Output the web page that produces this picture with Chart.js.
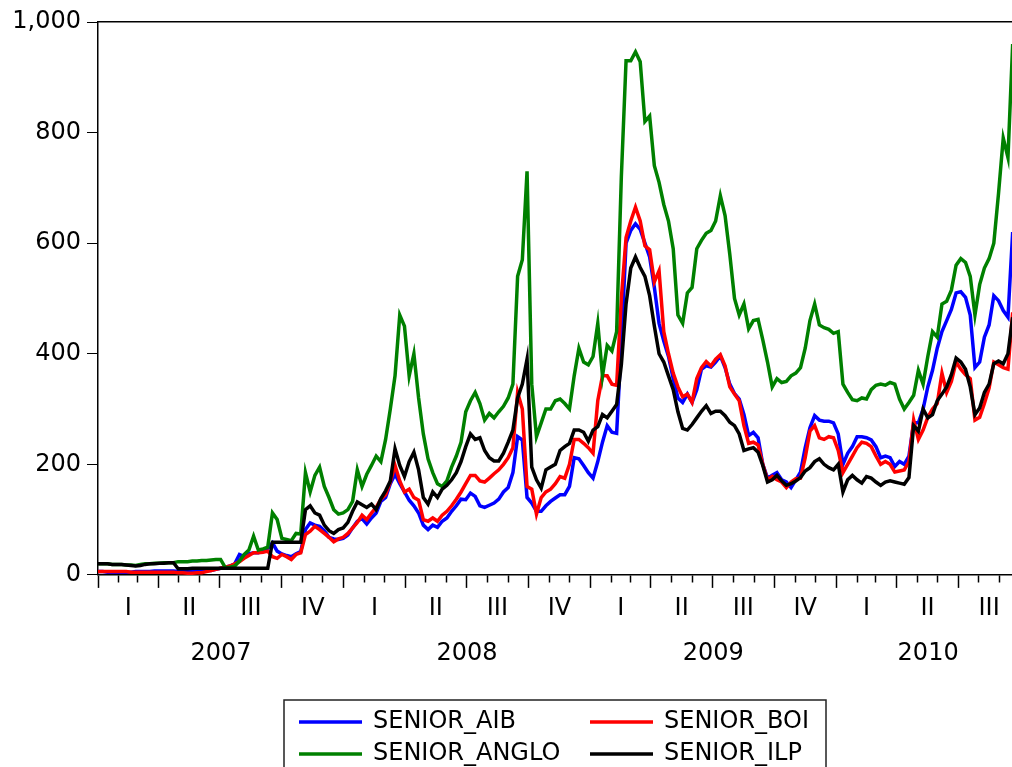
<!DOCTYPE html>
<html>
<head>
<meta charset="utf-8">
<script src="https://cdn.jsdelivr.net/npm/chart.js@4.4.0/dist/chart.umd.min.js"></script>
<style>
  html, body { margin: 0; padding: 0; background: #fff; }
</style>
</head>
<body>
<canvas id="seniorChart" width="1012" height="767"></canvas>
<script>
// weekly readings from 2007-01-01, one value every 7 days
var seriesNames = ["SENIOR_AIB", "SENIOR_BOI", "SENIOR_ANGLO", "SENIOR_ILP"];
var quarterLabels = ["I", "II", "III", "IV"];
var yearLabels = ["2007", "2008", "2009", "2010"];
var yTicks = [0, 200, 400, 600, 800, 1000];
var stepDays = 7;
var endDays = 1357;

var aib = [
  6, 6, 5, 5, 5, 5, 5, 5, 6, 6,
  6, 6, 7, 7, 7, 7, 7, 6, 6, 6,
  6, 7, 7, 8, 8, 10, 12, 14, 16, 20,
  37, 33, 38, 40, 40, 44, 48, 58, 43, 38,
  35, 33, 38, 42, 82, 94, 90, 88, 80, 68,
  65, 64, 66, 72, 85, 97, 102, 92, 103, 112,
  133, 140, 165, 182, 165, 150, 135, 125, 112, 90,
  82, 90, 86, 97, 103, 115, 125, 137, 136, 148,
  142, 125, 122, 126, 130, 137, 150, 158, 185, 250,
  244, 140, 130, 115, 115, 125, 133, 139, 145, 145,
  160, 212, 210, 198, 185, 175, 205, 240, 270, 258,
  256, 420, 600, 623, 635, 625, 600, 575, 520, 455,
  423, 395, 355, 320, 312, 327, 312, 335, 372, 378,
  376, 385, 396, 375, 345, 328, 318, 290, 252, 258,
  248, 200, 175, 180, 185, 172, 168, 158, 172, 186,
  230, 266, 288, 280, 278, 278, 275, 255, 200, 220,
  232, 250, 250, 248, 244, 232, 212, 215, 212, 196,
  205, 200, 215, 275, 275, 300, 340, 370, 410, 440,
  460, 480, 510, 512, 502, 470, 375, 385, 430, 452,
  505, 496, 478, 466, 620
];
var boi = [
  6, 6, 6, 6, 6, 6, 6, 5, 5, 5,
  5, 5, 5, 5, 5, 5, 5, 4, 4, 3,
  3, 4, 4, 6, 8, 10, 12, 14, 16, 20,
  24, 30, 35, 40, 40, 41, 43, 33, 30, 37,
  33, 28, 37, 40, 73, 79, 88, 82, 75, 68,
  60, 65, 68, 75, 85, 95, 108, 100, 112, 122,
  137, 145, 168, 198, 170, 150, 155, 140, 135, 100,
  97, 103, 97, 108, 115, 125, 137, 150, 165, 180,
  180, 170, 168, 175, 183, 190, 200, 212, 230, 330,
  300, 160, 155, 110, 140, 150, 155, 165, 178, 175,
  200, 245, 245, 238, 230, 220, 315, 360, 360, 345,
  343, 500, 610, 640, 665, 640, 595, 588, 530, 550,
  440, 400, 365, 340, 322, 327, 312, 355, 375, 386,
  378, 390, 398, 378, 340, 327, 315, 270, 238, 240,
  235, 200, 172, 178, 172, 168, 158, 168, 174, 175,
  212, 260, 270, 248, 245, 250, 248, 225, 185, 200,
  215, 230, 240, 238, 232, 215, 200, 205, 200, 186,
  188, 190, 205, 280, 245, 262, 285, 300, 310, 365,
  330, 350, 385, 372, 362, 355, 280, 285, 310, 338,
  385, 380, 375, 372, 475
];
var anglo = [
  20, 20, 20, 19, 19, 19, 18, 18, 17, 19,
  20, 20, 21, 21, 22, 22, 22, 24, 24, 24,
  25, 25, 26, 26, 27, 28, 28, 13, 14, 16,
  25, 37, 45, 70, 45, 47, 50, 112, 100, 66,
  64, 62, 75, 74, 185, 150, 180, 195, 160, 140,
  118, 110, 112, 118, 133, 190, 160, 182, 198, 215,
  205, 245, 300, 360, 470, 450, 360, 400, 320, 255,
  210, 185, 165, 160, 170, 195, 215, 240, 295, 315,
  330, 310, 280, 292, 284, 295, 305, 320, 345, 540,
  570, 730, 345, 250, 275, 300, 300, 315, 318, 310,
  300, 360, 410, 385, 380, 395, 455, 360, 415, 405,
  440, 720, 930, 930, 946, 928, 820, 830, 740, 710,
  670, 640, 590, 470, 455, 510, 520, 590, 605, 618,
  623, 640, 686, 650, 580, 500, 470, 490, 445, 460,
  462, 425, 385, 340, 355, 348, 350, 360, 365, 375,
  410, 460, 490, 452, 447, 444, 437, 440, 345, 330,
  317, 315, 320, 318, 335, 343, 345, 343, 348, 345,
  318, 300, 312, 325, 370, 345, 395, 440, 430, 490,
  495, 515, 560, 572, 565, 540, 470, 525, 555, 572,
  600, 690, 790, 755, 960
];
var ilp = [
  20, 20, 20, 19, 19, 19, 18, 17, 16, 17,
  19, 20, 20, 21, 21, 22, 22, 11, 11, 11,
  12, 12, 12, 12, 12, 12, 12, 12, 12, 12,
  12, 12, 12, 12, 12, 12, 12, 59, 59, 59,
  59, 59, 59, 59, 118, 125, 112, 108, 90, 80,
  75, 82, 85, 95, 115, 132, 127, 122, 128, 118,
  138, 152, 170, 228, 198, 178, 205, 222, 190, 140,
  128, 150, 140, 155, 162, 172, 185, 205, 232, 255,
  245, 248, 225, 212, 206, 206, 220, 240, 262, 320,
  345, 390, 195, 172, 157, 190, 195, 200, 225, 232,
  238, 262, 262, 258, 242, 262, 268, 290, 284, 296,
  308, 380, 490, 555, 575, 556, 540, 505, 450, 400,
  385, 360, 335, 295, 265, 262, 272, 284, 296, 306,
  292, 296, 296, 288, 276, 270, 255, 225, 228, 230,
  222, 198, 168, 172, 180, 170, 162, 165, 170, 176,
  188, 194, 205, 210, 200, 194, 190, 200, 150, 172,
  180, 172, 166, 178, 175, 168, 162, 168, 170, 168,
  166, 164, 176, 270, 260, 300, 284, 290, 315, 327,
  340, 362, 392, 385, 372, 340, 290, 302, 330, 345,
  382, 387, 382, 400, 466
];

var startDate = Date.UTC(2007, 0, 1);
function dayOf(y, m) {
  return (Date.UTC(y, m, 1) - startDate) / 86400000;
}
function toPoints(values) {
  return values.map(function (v, i) { return { x: i * stepDays, y: v }; });
}

// month tick marks, quarter starts get the long ones
var monthTicks = [];
var quarterStarts = [];
var quarterCenters = [];
var quarterNames = [];
var yearCenters = [];
for (var yi = 0; yi < yearLabels.length; yi++) {
  var yr = parseInt(yearLabels[yi], 10);
  var lastEnd = dayOf(yr, 0);
  for (var m = 0; m < 12; m++) {
    var d = dayOf(yr, m);
    if (d > endDays) break;
    monthTicks.push(d);
    if (m % 3 === 0) {
      quarterStarts.push(d);
      quarterCenters.push((d + dayOf(yr, m + 3)) / 2);
      quarterNames.push(quarterLabels[m / 3]);
      lastEnd = dayOf(yr, m + 3);
    }
  }
  yearCenters.push((dayOf(yr, 0) + lastEnd) / 2);
}

function asTicks(list) {
  return list.map(function (v) { return { value: v }; });
}

var legendBox = {
  id: "legendBox",
  afterDraw: function (chart) {
    var ctx = chart.ctx;
    var area = chart.chartArea;
    var left = (area.left + area.right) / 2 - 271;
    var top = chart.height - 67;
    ctx.save();
    ctx.strokeStyle = "#222";
    ctx.lineWidth = 1.5;
    ctx.strokeRect(left, top, 542, 80);
    ctx.font = '24px "DejaVu Sans"';
    ctx.textBaseline = "middle";
    ctx.textAlign = "left";
    chart.data.datasets.forEach(function (ds, i) {
      var x = left + 15 + (i % 2) * 291;
      var y = top + 22 + Math.floor(i / 2) * 32;
      ctx.strokeStyle = ds.borderColor;
      ctx.lineWidth = 3.5;
      ctx.beginPath();
      ctx.moveTo(x, y);
      ctx.lineTo(x + 63, y);
      ctx.stroke();
      ctx.fillStyle = "#000";
      ctx.fillText(ds.label, x + 74, y);
    });
    ctx.restore();
  }
};

Chart.defaults.font.family = '"DejaVu Sans"';
Chart.defaults.font.size = 24;
Chart.defaults.color = "#000";

var ctx = document.getElementById("seniorChart").getContext("2d");
var myChart = new Chart(ctx, {
  type: "line",
  data: {
    datasets: [
      { label: seriesNames[0], data: toPoints(aib), borderColor: "#0000ff", order: 3 },
      { label: seriesNames[1], data: toPoints(boi), borderColor: "#ff0000", order: 2 },
      { label: seriesNames[2], data: toPoints(anglo), borderColor: "#008000", order: 1 },
      { label: seriesNames[3], data: toPoints(ilp), borderColor: "#000000", order: 0 },
    ],
  },
  options: {
    responsive: false,
    animation: false,
    devicePixelRatio: 1,
    layout: { padding: { top: 22, right: 0, bottom: 88.5, left: 0 } },
    elements: {
      point: { radius: 0 },
      line: { borderWidth: 3.5, tension: 0, fill: false },
    },
    plugins: {
      legend: { display: false },
      tooltip: { enabled: false },
    },
    scales: {
      x: {
        type: "linear",
        position: "bottom",
        weight: 0,
        min: 0,
        max: endDays,
        afterBuildTicks: function (scale) { scale.ticks = asTicks(monthTicks); },
        ticks: { display: false },
        grid: {
          drawOnChartArea: false,
          tickLength: 13,
          tickColor: "#000",
          tickWidth: 1.5,
          tickBorderDash: function (c) {
            return c.tick && quarterStarts.indexOf(c.tick.value) >= 0 ? [] : [7, 40];
          },
        },
        border: { display: true, color: "#000", width: 1.5 },
      },
      xq: {
        type: "linear",
        position: "bottom",
        weight: 1,
        min: 0,
        max: endDays,
        afterBuildTicks: function (scale) { scale.ticks = asTicks(quarterCenters); },
        ticks: {
          autoSkip: false,
          maxRotation: 0,
          padding: 6,
          callback: function (value, index) { return quarterNames[index]; },
        },
        grid: { display: false, drawTicks: false },
        border: { display: false },
      },
      xy: {
        type: "linear",
        position: "bottom",
        weight: 2,
        min: 0,
        max: endDays,
        afterBuildTicks: function (scale) { scale.ticks = asTicks(yearCenters); },
        ticks: {
          autoSkip: false,
          maxRotation: 0,
          padding: 10.5,
          callback: function (value, index) { return yearLabels[index]; },
        },
        grid: { display: false, drawTicks: false },
        border: { display: false },
      },
      xt: {
        type: "linear",
        position: "top",
        min: 0,
        max: endDays,
        ticks: { display: false },
        grid: { display: false, drawTicks: false },
        border: { display: true, color: "#000", width: 1.5 },
      },
      y: {
        min: 0,
        max: 1000,
        afterBuildTicks: function (scale) { scale.ticks = asTicks(yTicks); },
        afterFit: function (scale) { scale.width = 98; },
        ticks: {
          padding: 6,
          callback: function (value) { return value.toLocaleString("en-US"); },
        },
        grid: { drawOnChartArea: false, tickLength: 11, tickColor: "#000", tickWidth: 1 },
        border: { display: true, color: "#000", width: 1.5 },
      },
    },
  },
  plugins: [legendBox],
});
</script>
</body>
</html>
